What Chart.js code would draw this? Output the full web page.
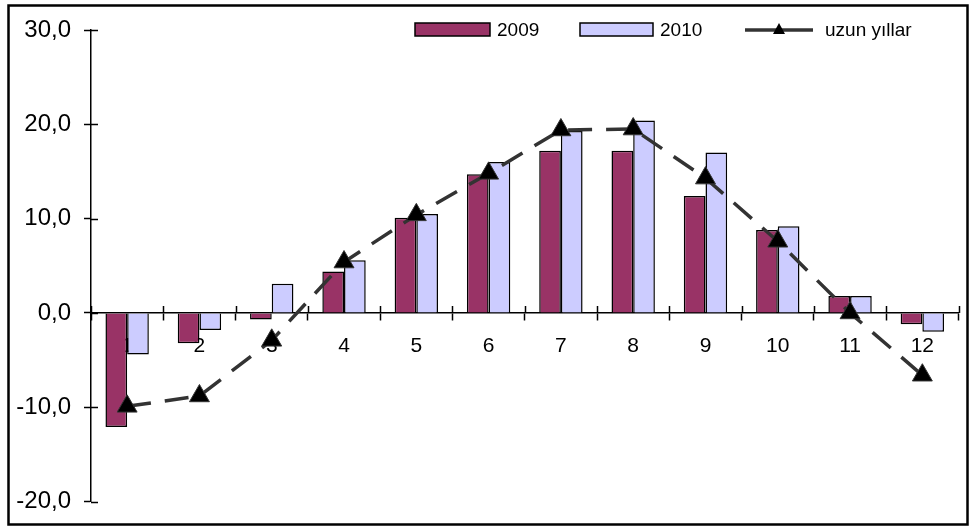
<!DOCTYPE html>
<html>
<head>
<meta charset="utf-8">
<script src="https://cdn.jsdelivr.net/npm/chart.js@4.4.1/dist/chart.umd.min.js"></script>
<style>
  html, body { margin: 0; padding: 0; background: #ffffff; }
  #wrap { position: relative; width: 971px; height: 529px; }
</style>
</head>
<body>
<div id="wrap"><canvas id="chart" width="971" height="529"></canvas></div>
<script>
// Monthly values (°C) for two years and the long-term average
const months = ['1', '2', '3', '4', '5', '6', '7', '8', '9', '10', '11', '12'];
const values2009 = [-12.1, -3.2, -0.7, 4.4, 10.1, 14.7, 17.2, 17.2, 12.4, 8.8, 1.8, -1.2];
const values2010 = [-4.4, -1.8, 3.1, 5.6, 10.5, 16.0, 19.3, 20.4, 17.0, 9.2, 1.8, -2.0];
const longTerm = [-9.9, -8.8, -2.9, 5.4, 10.4, 14.8, 19.4, 19.5, 14.3, 7.6, 0.0, -6.6];
const yTicks = [-20, -10, 0, 10, 20, 30];

const FONT = '"Liberation Sans", Arial, sans-serif';
const TICK = 7;

// Tick marks that cross the axis lines (inner half; outer half comes from Chart.js)
const crossTicks = {
  id: 'crossTicks',
  afterDatasetsDraw(chart) {
    const { ctx, scales: { x, y }, chartArea } = chart;
    ctx.save();
    ctx.strokeStyle = '#000';
    ctx.lineWidth = 1.5;
    ctx.beginPath();
    yTicks.forEach(v => {
      const py = Math.round(y.getPixelForValue(v)) + 0.5;
      ctx.moveTo(chartArea.left, py);
      ctx.lineTo(chartArea.left + TICK, py);
    });
    const y0 = y.getPixelForValue(0);
    for (let i = 0; i <= months.length; i++) {
      const px = Math.round(x.getPixelForValue(i - 0.5)) + 0.5;
      ctx.moveTo(px, y0);
      ctx.lineTo(px, y0 - TICK);
    }
    ctx.stroke();
    ctx.restore();
  }
};

// Legend row across the top plus the outer frame
const legendAndFrame = {
  id: 'legendAndFrame',
  afterDraw(chart) {
    const { ctx } = chart;
    const byLabel = l => chart.data.datasets.find(d => d.label === l);
    ctx.save();
    ctx.font = '19px ' + FONT;
    ctx.textBaseline = 'middle';
    const ly = 30;
    [[byLabel('2009'), 415, 75], [byLabel('2010'), 580, 73]].forEach(([d, bx, bw]) => {
      ctx.fillStyle = d.backgroundColor;
      ctx.fillRect(bx, ly - 7, bw, 13);
      ctx.strokeStyle = '#000';
      ctx.lineWidth = 1.5;
      ctx.strokeRect(bx, ly - 7, bw, 13);
      ctx.fillStyle = '#000';
      ctx.fillText(d.label, bx + bw + 7, ly + 1);
    });
    const l = byLabel('uzun yıllar');
    ctx.strokeStyle = l.borderColor;
    ctx.lineWidth = 3.5;
    ctx.beginPath();
    ctx.moveTo(745, ly);
    ctx.lineTo(813, ly);
    ctx.stroke();
    ctx.fillStyle = '#000';
    ctx.beginPath();
    ctx.moveTo(779, ly - 7);
    ctx.lineTo(785, ly + 4);
    ctx.lineTo(773, ly + 4);
    ctx.closePath();
    ctx.fill();
    ctx.fillText(l.label, 825, ly + 1);
    // frame
    ctx.strokeStyle = '#000';
    ctx.lineWidth = 2.5;
    ctx.strokeRect(8.5, 5.5, 959, 519);
    ctx.restore();
  }
};

new Chart(document.getElementById('chart'), {
  data: {
    labels: months,
    datasets: [
      {
        type: 'line',
        label: 'uzun yıllar',
        data: longTerm,
        borderColor: '#333333',
        borderWidth: 3.5,
        borderDash: [24, 14],
        pointStyle: 'triangle',
        pointRadius: 11.5,
        pointBackgroundColor: '#000000',
        pointBorderColor: '#333333',
        pointBorderWidth: 1,
        tension: 0,
        order: 0
      },
      {
        type: 'bar',
        label: '2009',
        data: values2009,
        backgroundColor: '#993366',
        borderColor: '#000000',
        borderWidth: 1.5,
        categoryPercentage: 0.6,
        barPercentage: 1.0,
        order: 1
      },
      {
        type: 'bar',
        label: '2010',
        data: values2010,
        backgroundColor: '#CCCCFF',
        borderColor: '#000000',
        borderWidth: 1.5,
        categoryPercentage: 0.6,
        barPercentage: 1.0,
        order: 1
      }
    ]
  },
  options: {
    responsive: false,
    animation: false,
    devicePixelRatio: 1,
    layout: { padding: { top: 30, bottom: 26, left: 0, right: 0 } },
    plugins: {
      legend: { display: false },
      tooltip: { enabled: false }
    },
    scales: {
      x: {
        type: 'category',
        position: { y: 0 },
        offset: true,
        grid: {
          offset: true,
          drawOnChartArea: false,
          drawTicks: true,
          tickLength: TICK,
          tickWidth: 1.5,
          tickColor: '#000'
        },
        border: { display: true, color: '#000', width: 1.5 },
        ticks: {
          color: '#000',
          font: { family: FONT, size: 21 },
          padding: 14,
          maxRotation: 0,
          autoSkip: false
        }
      },
      y: {
        min: -20,
        max: 30,
        afterFit(scale) { scale.width = 91; },
        afterBuildTicks(scale) { scale.ticks = yTicks.map(v => ({ value: v })); },
        grid: {
          drawOnChartArea: false,
          drawTicks: true,
          tickLength: TICK,
          tickWidth: 1.5,
          tickColor: '#000'
        },
        border: { display: true, color: '#000', width: 1.5 },
        ticks: {
          color: '#000',
          font: { family: FONT, size: 24 },
          padding: 13,
          callback: v => v.toFixed(1).replace('.', ',')
        }
      }
    }
  },
  plugins: [crossTicks, legendAndFrame]
});
</script>
</body>
</html>
